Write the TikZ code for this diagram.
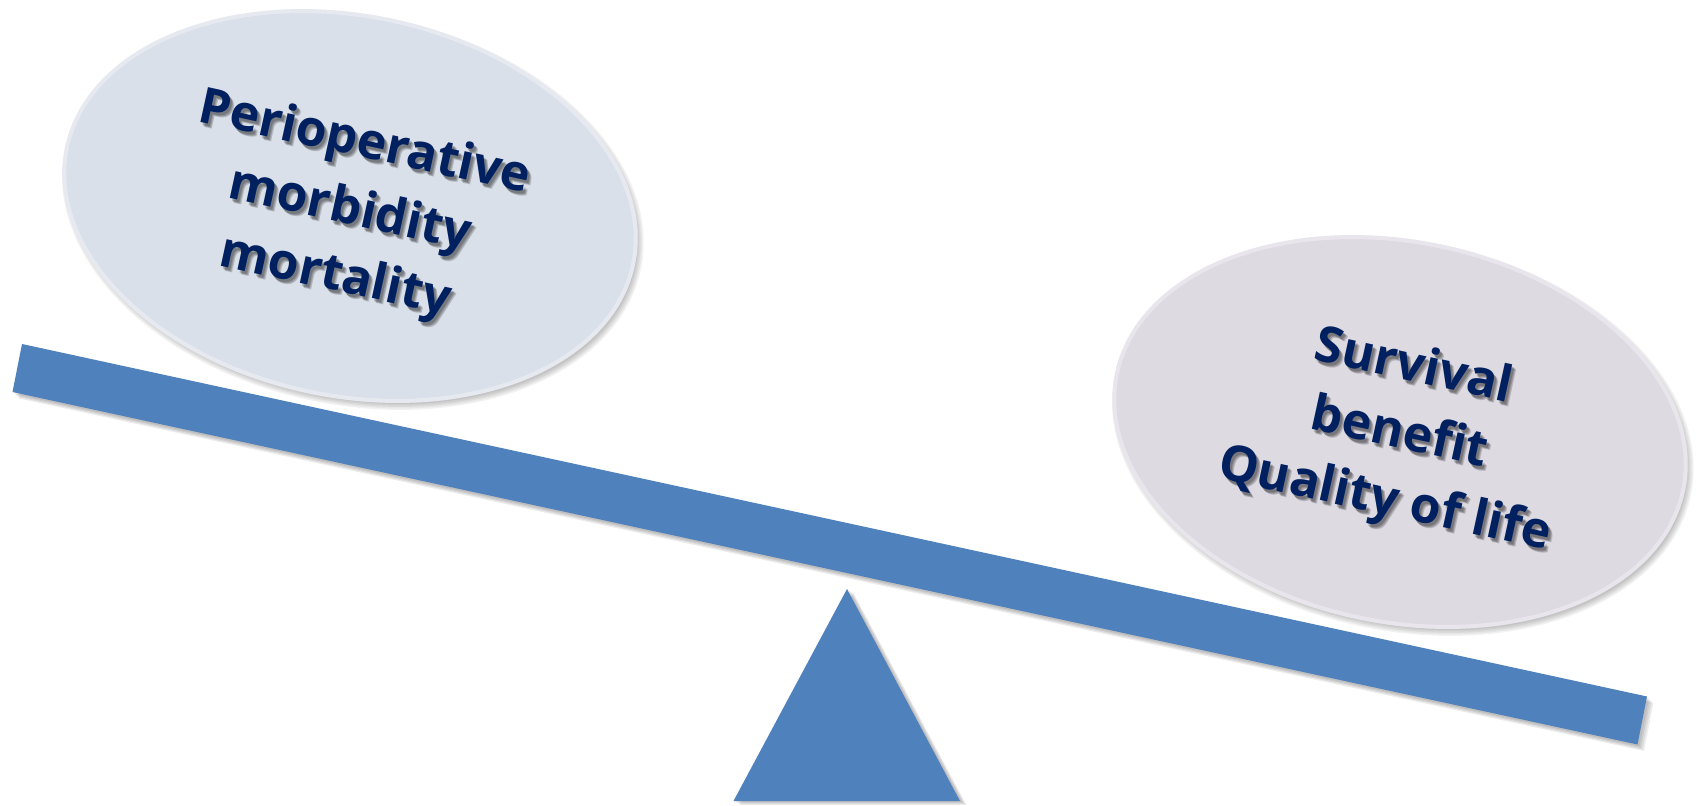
\documentclass[tikz,border=0pt]{standalone}
\usepackage{fontspec}
\usetikzlibrary{shapes.geometric}
\setmainfont{Open Sans}
\definecolor{beamcol}{HTML}{4F81BD}
\definecolor{leftfill}{HTML}{DAE0E9}
\definecolor{rightfill}{HTML}{DDDAE2}
\definecolor{navy}{HTML}{002060}
\begin{document}
\begin{tikzpicture}[x=0.5pt,y=-0.5pt,
  pan/.style={shape=ellipse, inner sep=0pt, minimum width=291pt, minimum height=192pt, rotate=-11.5},
  pantext/.style={align=center, rotate=-12.3, inner sep=0pt,
    font=\fontsize{25}{34}\selectfont\bfseries, text=navy},
  pantextshadow/.style={pantext, text=black, opacity=0.18},
  softshadow/.style={fill=black, opacity=0.05}]
\useasboundingbox (0,0) rectangle (1698,806);

% beam corners
\coordinate (bTL) at (22,344);
\coordinate (bBL) at (12.5,392);
\coordinate (bTR) at (1647,696.5);
\coordinate (bBR) at (1637.5,744.5);
% fulcrum corners
\coordinate (tA) at (847,589);
\coordinate (tL) at (733.5,801);
\coordinate (tR) at (960,801);

% soft shadows of the two pans
\foreach \s in {0,1.5,3,4.5,6} {
  \fill[softshadow] ([shift={(3,4)}]350,206) [rotate around={-11.5:([shift={(3,4)}]350,206)}] ellipse [x radius=288+\s, y radius=189+\s];
  \fill[softshadow] ([shift={(3,4)}]1400,432) [rotate around={-11.5:([shift={(3,4)}]1400,432)}] ellipse [x radius=288+\s, y radius=189+\s];
}
% pans
\node[pan, fill=leftfill] (leftpan) at (350,206) {};
\node[pan, fill=rightfill] (rightpan) at (1400,432) {};
\node[pan, draw=white, opacity=0.35, line width=2pt, minimum width=289pt, minimum height=190pt] (leftrim) at (350,206) {};
\node[pan, draw=white, opacity=0.35, line width=2pt, minimum width=289pt, minimum height=190pt] (rightrim) at (1400,432) {};

% pan labels with their blurred drop shadows
\foreach \dx/\dy in {2/3,3/4,4/5} {
  \node[pantextshadow] at ([shift={(\dx,\dy)}]350,211) {Perioperative\\morbidity\\mortality};
  \node[pantextshadow] at ([shift={(\dx,\dy)}]1399,435) {Survival\\benefit\\Quality of life};
}
\node[pantext] (lefttext) at (350,211) {Perioperative\\morbidity\\mortality};
\node[pantext] (righttext) at (1399,435) {Survival\\benefit\\Quality of life};

% shadows of beam and fulcrum
\foreach \s in {2,3.5,5,6.5} {
  \fill[black, opacity=0.07] ([shift={(\s,\s)}]bTL) -- ([shift={(\s,\s)}]bTR) -- ([shift={(\s,\s)}]bBR) -- ([shift={(\s,\s)}]bBL) -- cycle;
  \fill[black, opacity=0.07] ([shift={(\s,\s*0.6)}]tA) -- ([shift={(\s,\s*0.6)}]tR) -- ([shift={(\s,\s*0.6)}]tL) -- cycle;
}
% beam and fulcrum
\fill[beamcol] (bTL) -- (bTR) -- (bBR) -- (bBL) -- cycle;
\fill[beamcol] (tA) -- (tR) -- (tL) -- cycle;
\end{tikzpicture}
\end{document}
